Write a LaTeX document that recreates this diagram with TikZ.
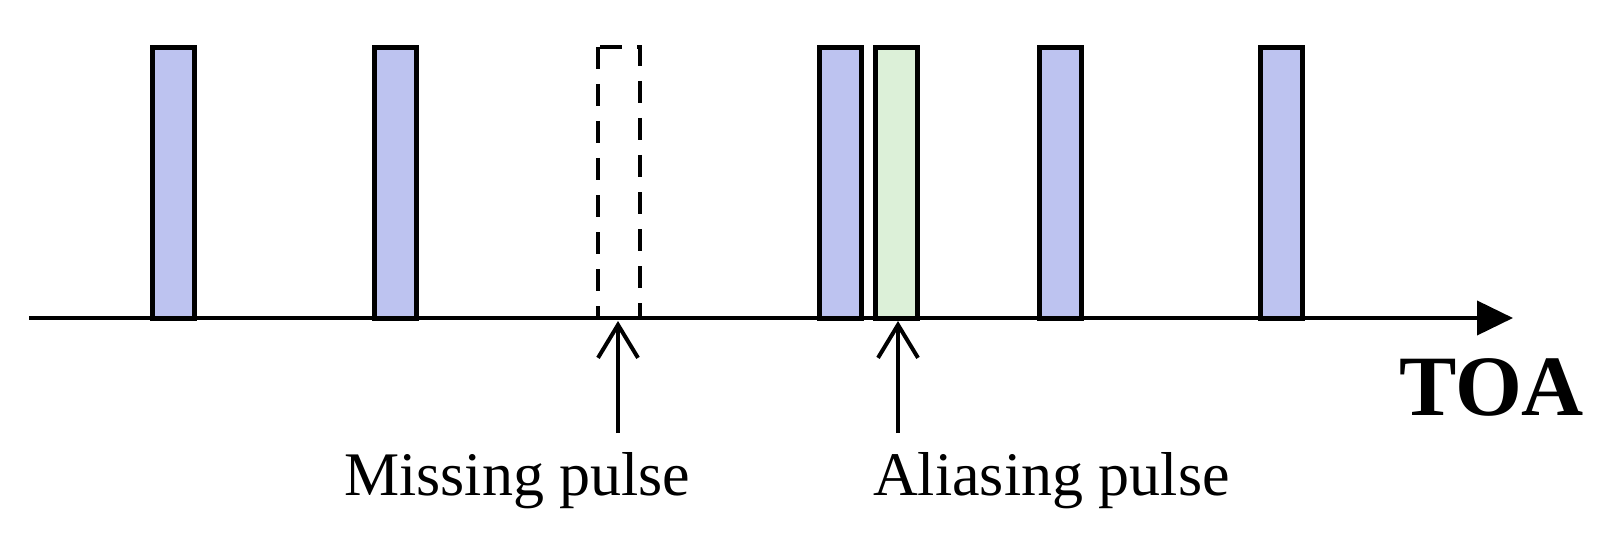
\documentclass[tikz,border=0pt]{standalone}
\usepackage{fontspec}
\setmainfont{Liberation Serif}
\usetikzlibrary{arrows.meta}
\definecolor{pulseblue}{RGB}{189,195,240}
\definecolor{pulsegreen}{RGB}{220,240,216}
\begin{document}
\begin{tikzpicture}[x=1pt,y=-1pt,
  pulsebox/.style={draw=black, line width=5pt, fill=pulseblue, rectangle,
    inner sep=0pt, outer sep=0pt, minimum width=42pt, minimum height=270pt, anchor=south west},
  ghostbox/.style={rectangle, inner sep=0pt, outer sep=0pt,
    minimum width=42pt, minimum height=271pt, anchor=south west},
  lbl/.style={inner sep=0pt, anchor=base west, font=\fontsize{62}{70}\selectfont},
  pointer/.style={line width=3.5pt, -{Straight Barb[length=33pt,width=40pt,line width=4pt]}}
]
\useasboundingbox (0,0) rectangle (1602,540);
% pulses (x = centre line of left border, south = axis)
\node[pulsebox] (p1) at (152.5,318) {};
\node[pulsebox] (p2) at (374.5,318) {};
\node[ghostbox] (pm) at (598,318) {};
\node[pulsebox] (p3) at (819.5,318) {};
\node[pulsebox, fill=pulsegreen] (pa) at (875.5,318) {};
\node[pulsebox] (p4) at (1039.5,318) {};
\node[pulsebox] (p5) at (1260.5,318) {};
\draw[line width=4pt, dash pattern=on 22pt off 15pt]
  (pm.north west) -- (pm.south west);
\draw[line width=4pt, dash pattern=on 22pt off 15pt]
  ([xshift=2pt]pm.north west) -- (pm.north east) -- (pm.south east);
% axis
\coordinate (ax0) at (29,318);
\coordinate (ax1) at (1513,318);
\draw[line width=4pt, -{Triangle[length=36pt,width=34pt]}] (ax0) -- (ax1);
\node[inner sep=0pt, anchor=base west, font=\fontsize{86}{90}\selectfont\bfseries] (toa) at (1399,415) {TOA};
% labels and pointers
\node[lbl] (miss) at (344,495) {Missing pulse};
\node[lbl] (alias) at (873,495) {Aliasing pulse};
\coordinate (mfrom) at (618,433);
\coordinate (mto) at (618,321);
\coordinate (afrom) at (898,433);
\coordinate (ato) at (898,321);
\draw[pointer] (mfrom) -- (mto);
\draw[pointer] (afrom) -- (ato);
\end{tikzpicture}
\end{document}
